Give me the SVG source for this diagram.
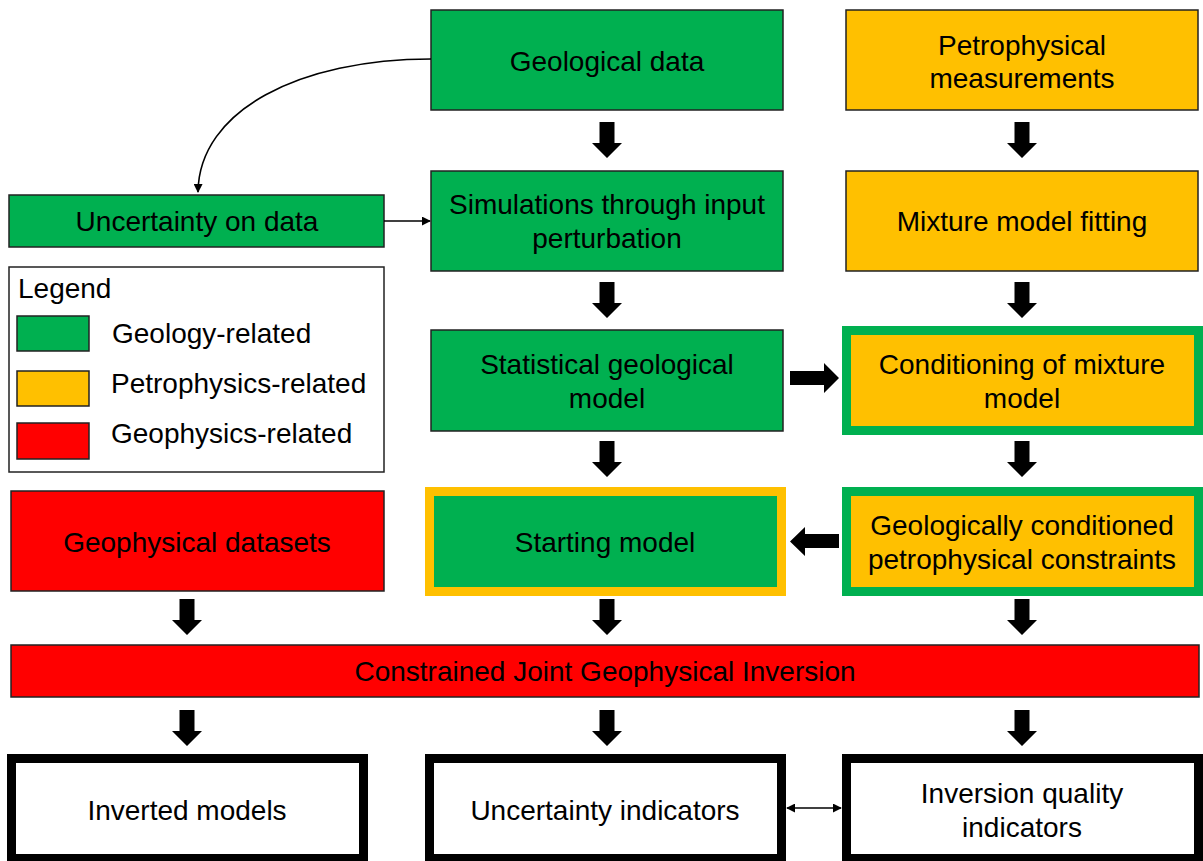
<svg xmlns="http://www.w3.org/2000/svg" width="1203" height="861" viewBox="0 0 1203 861">
<style>
text{font-family:"Liberation Sans",Arial,sans-serif;font-size:28px;fill:#000;text-anchor:middle}
.g{fill:#00B050;stroke:#222;stroke-width:1.5}
.y{fill:#FFC000;stroke:#222;stroke-width:1.5}
.r{fill:#FF0000;stroke:#222;stroke-width:1.5}
.w{fill:#fff;stroke:#000;stroke-width:9}
.gb{fill:#FFC000;stroke:#00B050;stroke-width:9}
.yb{fill:#00B050;stroke:#FFC000;stroke-width:9}
.ba{fill:#000}
.ln{fill:none;stroke:#000;stroke-width:1.6}
.lt{text-anchor:start}
</style>
<defs>
<marker id="ah" viewBox="0 0 10 10" refX="9" refY="5" markerWidth="9" markerHeight="9" orient="auto-start-reverse" markerUnits="userSpaceOnUse"><path d="M0,0 L10,5 L0,10 z" fill="#000"/></marker>
<polygon id="down" points="-7.5,0 7.5,0 7.5,21 15,21 0,36 -15,21 -7.5,21"/>
</defs>

<g id="geological-data"><rect class="g" x="431" y="10" width="352" height="100"/><text x="607" y="71">Geological data</text></g>
<g id="petrophysical-measurements"><rect class="y" x="846" y="10" width="352" height="100"/><text x="1022" y="55">Petrophysical</text><text x="1022" y="88">measurements</text></g>
<g id="uncertainty-on-data"><rect class="g" x="9" y="195" width="375" height="52"/><text x="197" y="231">Uncertainty on data</text></g>
<g id="simulations"><rect class="g" x="431" y="171" width="352" height="100"/><text x="607" y="214">Simulations through input</text><text x="607" y="248">perturbation</text></g>
<g id="mixture-model-fitting"><rect class="y" x="846" y="171" width="352" height="100"/><text x="1022" y="231">Mixture model fitting</text></g>
<g id="legend">
<rect x="9" y="267" width="375" height="205" fill="#fff" stroke="#222" stroke-width="1.5"/>
<text class="lt" x="18" y="298">Legend</text>
<rect class="g" x="17" y="316" width="72" height="35"/><text class="lt" x="112" y="343">Geology-related</text>
<rect class="y" x="17" y="371" width="72" height="35"/><text class="lt" x="111" y="393">Petrophysics-related</text>
<rect class="r" x="17" y="423" width="72" height="36"/><text class="lt" x="111" y="443">Geophysics-related</text>
</g>
<g id="statistical-geological-model"><rect class="g" x="431" y="330" width="352" height="101"/><text x="607" y="374">Statistical geological</text><text x="607" y="408">model</text></g>
<g id="conditioning-of-mixture-model"><rect class="gb" x="846.5" y="330.5" width="352" height="100"/><text x="1022" y="374">Conditioning of mixture</text><text x="1022" y="408">model</text></g>
<g id="geophysical-datasets"><rect class="r" x="11" y="491" width="373" height="100"/><text x="197" y="552">Geophysical datasets</text></g>
<g id="starting-model"><rect class="yb" x="429.5" y="491.5" width="352" height="100"/><text x="605" y="552">Starting model</text></g>
<g id="geologically-conditioned-constraints"><rect class="gb" x="846.5" y="491.5" width="352" height="100"/><text x="1022" y="535">Geologically conditioned</text><text x="1022" y="569">petrophysical constraints</text></g>
<g id="constrained-joint-inversion"><rect class="r" x="11" y="645" width="1188" height="52"/><text x="605" y="681">Constrained Joint Geophysical Inversion</text></g>
<g id="inverted-models"><rect class="w" x="11.5" y="758.5" width="352" height="100"/><text x="187" y="820">Inverted models</text></g>
<g id="uncertainty-indicators"><rect class="w" x="429.5" y="758.5" width="352" height="100"/><text x="605" y="820">Uncertainty indicators</text></g>
<g id="inversion-quality-indicators"><rect class="w" x="846.5" y="758.5" width="352" height="100"/><text x="1022" y="803">Inversion quality</text><text x="1022" y="837">indicators</text></g>

<g id="connectors">
<path class="ln" d="M431,59 C300,59 199,110 198,192" marker-end="url(#ah)"/>
<path class="ln" d="M384,221 L430,221" marker-end="url(#ah)"/>
<path class="ln" d="M787,808 L841,808" marker-start="url(#ah)" marker-end="url(#ah)"/>
<use href="#down" class="ba" x="607" y="122"/>
<use href="#down" class="ba" x="1022" y="122"/>
<use href="#down" class="ba" x="607" y="282"/>
<use href="#down" class="ba" x="1022" y="282"/>
<use href="#down" class="ba" x="607" y="441"/>
<use href="#down" class="ba" x="1022" y="441"/>
<use href="#down" class="ba" x="187" y="599"/>
<use href="#down" class="ba" x="607" y="599"/>
<use href="#down" class="ba" x="1022" y="599"/>
<use href="#down" class="ba" x="187" y="710"/>
<use href="#down" class="ba" x="607" y="710"/>
<use href="#down" class="ba" x="1022" y="710"/>
<polygon class="ba" points="790,371 824,371 824,363 839,378 824,393 824,385 790,385"/>
<polygon class="ba" points="839,534 805,534 805,527 790,541.5 805,556 805,548 839,548"/>
</g>
</svg>
